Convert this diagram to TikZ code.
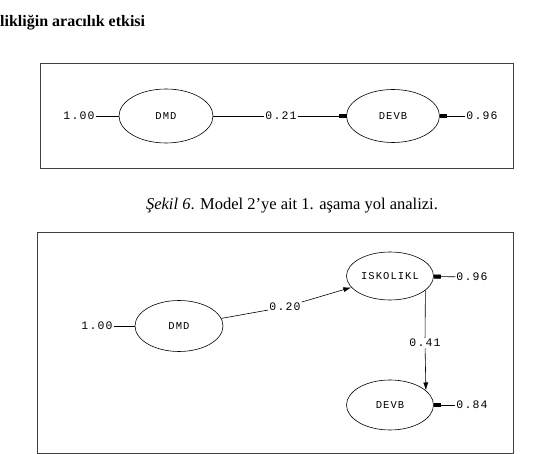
\documentclass[tikz,border=0pt]{standalone}
\usepackage{fontspec}
\setmainfont{Liberation Serif}
\newfontfamily\lisrel[LetterSpace=10]{Liberation Mono}
\usetikzlibrary{shapes.geometric, arrows.meta, positioning}

\begin{document}
\begin{tikzpicture}[
  x=1pt, y=-1pt,
  latent/.style={ellipse, draw=black, line width=0.6pt, minimum width=88pt, minimum height=51pt, inner sep=0pt, font=\lisrel\fontsize{10.5}{10.5}\selectfont},
  coef/.style={inner sep=1pt, font=\lisrel\fontsize{11.5}{11.5}\selectfont},
  frame/.style={draw=black!75, line width=0.8pt},
  path/.style={line width=0.6pt},
  arrow/.style={-{Latex[length=8pt, width=5pt]}, line width=0.6pt},
  resid/.style={-{Rectangle[length=7pt, width=4pt]}, line width=0.6pt},
]
\useasboundingbox (0,0) rectangle (555,454);

% Heading
\node[anchor=west, inner sep=0pt, font=\bfseries\fontsize{16}{18}\selectfont] (title) at (0,23) {likliğin aracılık etkisi};

% Model 1
\draw[frame] (40,63) rectangle (513,168);
\node[latent, minimum width=94pt, minimum height=54pt] (dmdA) at (166,116) {DMD};
\node[latent, minimum width=93pt, minimum height=53pt] (devbA) at (393,116) {DEVB};
\node[coef] (errA) at (79,116) {1.00};
\node[coef] (pathA) at (281,116) {0.21};
\node[coef] (resA) at (482,116) {0.96};

\draw[path] (errA) -- (dmdA);
\draw[path] (dmdA) -- (pathA);
\draw[resid] (pathA) -- (devbA);
\draw[resid] (resA) -- (devbA);

% Caption
\node[font=\fontsize{16.5}{18}\selectfont] (caption) at (292,206) {\textit{Şekil 6}. Model 2’ye ait 1. aşama yol analizi.};

% Model 2
\draw[frame] (37,232) rectangle (513,453);
\node[latent] (dmdB) at (179,326) {DMD};
\node[latent, minimum width=87pt, minimum height=48pt] (iskB) at (390,276) {ISKOLIKL};
\node[latent, minimum width=87pt, minimum height=50pt] (devbB) at (390,405) {DEVB};
\node[coef] (errB) at (97,326) {1.00};
\node[coef, fill=white] (pathB) at (285,307) {0.20};
\node[coef] (pathC) at (425,343) {0.41};
\node[coef] (resB) at (472,277) {0.96};
\node[coef] (resC) at (472,405) {0.84};

\draw[path] (errB) -- (dmdB);
\draw[path] (dmdB) -- (pathB);
\draw[arrow] (pathB) -- (iskB);
\draw[path] (iskB.-22) -- (pathC);
\draw[arrow] (pathC) -- (devbB.22);
\draw[resid] (resB) -- (iskB);
\draw[resid] (resC) -- (devbB);

\end{tikzpicture}
\end{document}
